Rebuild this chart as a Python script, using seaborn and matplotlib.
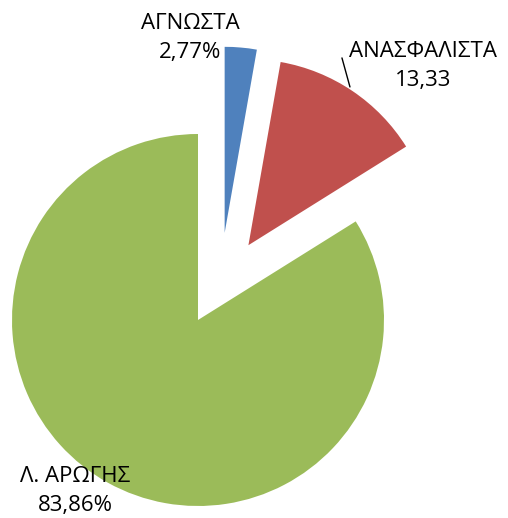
import numpy as np
import seaborn as sns
import matplotlib.pyplot as plt

# data
categories = ['ΑΓΝΩΣΤΑ', 'ΑΝΑΣΦΑΛΙΣΤΑ', 'Λ. ΑΡΩΓΗΣ']
values = [2.77, 13.33, 83.86]
value_labels = ['2,77%', '13,33', '83,86%']

colors = ['#4F81BD', '#C0504D', '#9BBB59']

sns.set_style('white')
plt.rcParams['font.family'] = ['Open Sans', 'DejaVu Sans']

fig = plt.figure(figsize=(5.08, 5.18), dpi=100)
ax = fig.add_axes([0, 0, 1, 1])

wedges, _ = ax.pie(values, colors=colors, startangle=90, counterclock=False,
                   explode=[0, 0.485, 0], radius=1,
                   wedgeprops=dict(linewidth=0))

# excel pushed the small slice out a bit off its bisector
ang = np.deg2rad(73)
wedges[0].set_center((0.49 * np.cos(ang), 0.49 * np.sin(ang)))

ax.set_aspect('equal')
r_px = 186.0
ax.set_xlim(-198 / r_px, (508 - 198) / r_px)
ax.set_ylim(-198 / r_px, (518 - 198) / r_px)
ax.axis('off')

label_pos = [(-0.04, 1.516), (1.21, 1.366), (-0.661, -0.919)]
for cat, vl, (x, y) in zip(categories, value_labels, label_pos):
    ax.text(x, y, cat + '\n' + vl, ha='center', va='center',
            fontsize=16, linespacing=1.45, color='black')

# leader line for the red slice
ax.plot([0.774, 0.817], [1.409, 1.253], color='black', lw=1)

fig.savefig('out.png', dpi=100)
